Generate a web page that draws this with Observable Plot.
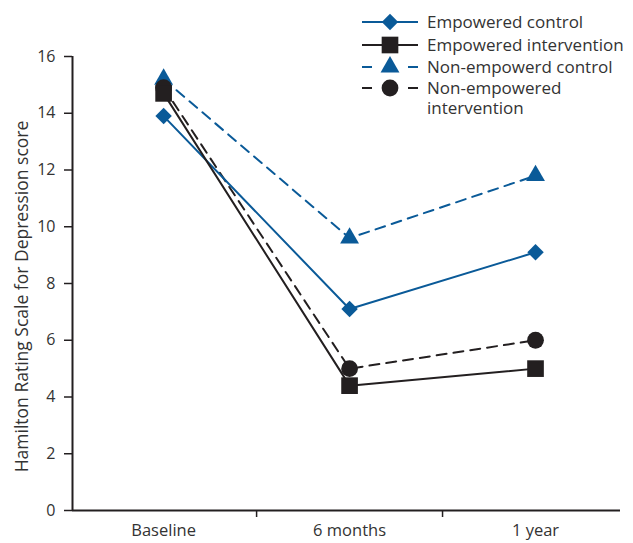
<!DOCTYPE html>
<html>
<head>
<meta charset="utf-8">
<script src="https://cdn.jsdelivr.net/npm/d3@7"></script>
<script src="https://cdn.jsdelivr.net/npm/@observablehq/plot@0.6"></script>
<style>
  html, body { margin: 0; padding: 0; background: #fff; }
  #wrap { position: relative; width: 633px; height: 543px; }
  #legend { position: absolute; left: 0; top: 0; }
  svg text { font-family: "Open Sans", sans-serif; }
</style>
</head>
<body>
<div id="wrap"></div>
<script>
// ---- data ----
const categories = ["Baseline", "6 months", "1 year"];
const seriesNames = ["Empowered control", "Empowered intervention", "Non-empowerd control", "Non-empowered\nintervention"];
const empoweredControl = [13.9, 7.1, 9.1];
const empoweredIntervention = [14.7, 4.4, 5.0];
const nonEmpoweredControl = [15.2, 9.6, 11.8];
const nonEmpoweredIntervention = [14.9, 5.0, 6.0];
const yTicks = [0, 2, 4, 6, 8, 10, 12, 14, 16];
const yLabel = "Hamilton Rating Scale for Depression score";

// ---- styles ----
const BLUE = "#0a5a98";
const BLACK = "#231f20";
const styles = [
  {name: seriesNames[0], values: empoweredControl, color: BLUE, dash: null, symbol: d3.symbolDiamond2, r: 7.4},
  {name: seriesNames[1], values: empoweredIntervention, color: BLACK, dash: null, symbol: d3.symbolSquare, r: 9.4},
  {name: seriesNames[2], values: nonEmpoweredControl, color: BLUE, dash: "10,7", symbol: d3.symbolTriangle, r: 7},
  {name: seriesNames[3], values: nonEmpoweredIntervention, color: BLACK, dash: "10,7", symbol: d3.symbolCircle, r: 8.4}
];
const drawOrder = [2, 3, 0, 1];

const xDomain = [-0.49, 2.457];
const marks = [];
for (const k of drawOrder) {
  const s = styles[k];
  const rows = s.values.map((v, i) => ({i, v}));
  marks.push(Plot.line(rows, {x: "i", y: "v", stroke: s.color, strokeWidth: 2, strokeDasharray: s.dash || undefined}));
}
for (const k of drawOrder) {
  const s = styles[k];
  const rows = s.values.map((v, i) => ({i, v}));
  marks.push(Plot.dot(rows, {x: "i", y: "v", fill: s.color, stroke: "none", symbol: s.symbol, r: s.r}));
}

const chart = Plot.plot({
  width: 633,
  height: 543,
  marginLeft: 72,
  marginRight: 13,
  marginTop: 56,
  marginBottom: 33,
  style: {fontFamily: "Open Sans, sans-serif", fontSize: "16px", color: "#333", background: "#fff"},
  x: {type: "linear", domain: xDomain, axis: null},
  y: {domain: [0, 16], axis: null},
  marks: [
    Plot.axisY({ticks: yTicks, tickSize: 8, tickPadding: 9, stroke: BLACK, strokeWidth: 1.5,
      label: null, fontSize: 16, color: "#333"}),
    Plot.text([yLabel], {frameAnchor: "left", rotate: -90, dx: -50, dy: 13, fontSize: 17.5, fill: "#333",
      textAnchor: "middle", lineAnchor: "middle"}),
    Plot.axisX({ticks: [0.5, 1.5], tickFormat: () => "", tickSize: 7, stroke: BLACK, strokeWidth: 1.5, label: null}),
    Plot.axisX({ticks: [0, 1, 2], tickFormat: i => categories[i], tickSize: 0, tickPadding: 14, fontSize: 16.5, label: null}),
    Plot.ruleY([0], {stroke: BLACK, strokeWidth: 2}),
    Plot.ruleX([xDomain[0]], {stroke: BLACK, strokeWidth: 2}),
    ...marks
  ]
});
document.getElementById("wrap").appendChild(chart);

// ---- legend overlay ----
const leg = d3.select("#wrap").append("svg").attr("id", "legend").attr("width", 633).attr("height", 130);
const rowY = [22, 45, 67, 88];
styles.forEach((s, k) => {
  const g = leg.append("g").attr("transform", `translate(0,${rowY[k]})`);
  if (s.dash) {
    g.append("line").attr("x1", 362).attr("x2", 372).attr("y1", 0).attr("y2", 0).attr("stroke", s.color).attr("stroke-width", 2);
    g.append("line").attr("x1", 408).attr("x2", 418).attr("y1", 0).attr("y2", 0).attr("stroke", s.color).attr("stroke-width", 2);
  } else {
    g.append("line").attr("x1", 362).attr("x2", 418).attr("y1", 0).attr("y2", 0).attr("stroke", s.color).attr("stroke-width", 2);
  }
  g.append("path").attr("transform", "translate(390,0)")
    .attr("d", d3.symbol(s.symbol, Math.PI * s.r * s.r)()).attr("fill", s.color);
  const lines = s.name.split("\n");
  lines.forEach((ln, j) => g.append("text").attr("x", 427).attr("y", j * 20).attr("dy", "0.35em")
    .attr("font-size", 17).attr("fill", "#333").text(ln));
});
</script>
</body>
</html>
